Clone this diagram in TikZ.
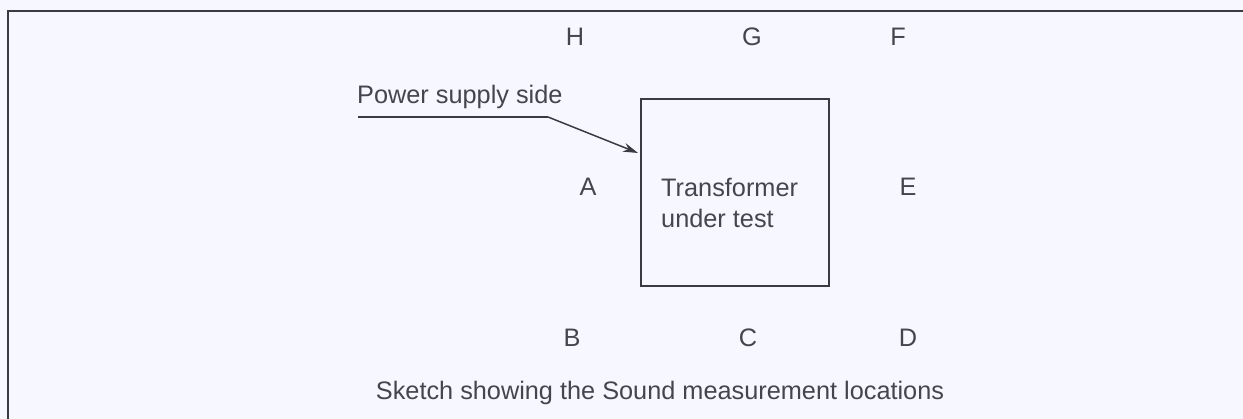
\documentclass[tikz,border=0pt]{standalone}
\usepackage{fontspec}
\setmainfont{Liberation Sans}
\usetikzlibrary{arrows.meta}
\definecolor{ink}{HTML}{3A3A44}
\definecolor{txt}{HTML}{45454D}
\begin{document}
\begin{tikzpicture}[x=1pt,y=1pt,
  lbl/.style={font=\fontsize{25.3}{30}\selectfont, text=txt, inner sep=0pt},
  line/.style={draw=ink, line width=1.7pt}]
\useasboundingbox (0,0) rectangle (1243,419);
\fill[white!97!blue] (0,0) rectangle (1243,419);
% frame (left and top edges)
\draw[line] (8,0) -- (8,408) -- (1243,408);
% transformer box
\node[line, minimum width=188pt, minimum height=187pt, inner sep=0pt] (box) at (735,226.5) {};
\node[lbl, align=left, anchor=west] (tx) at (661,216) {Transformer\\[1pt]under test};
% location labels
\node[lbl] (H) at (575,382) {H};
\node[lbl] (G) at (752,382) {G};
\node[lbl] (F) at (898,382) {F};
\node[lbl] (A) at (588,232) {A};
\node[lbl] (E) at (908,232) {E};
\node[lbl] (B) at (572,81) {B};
\node[lbl] (C) at (748,81) {C};
\node[lbl] (D) at (908,81) {D};
% power supply side label
\node[lbl, anchor=west] (ps) at (357,322) {Power supply side};
\coordinate (ul0) at (358,302);
\coordinate (ul1) at (548,302);
\coordinate (tip) at (638,266);
\draw[ink, line width=1.5pt] (ul0) -- (ul1);
\draw[ink, line width=1.5pt, -{Stealth[length=15pt,width=9pt]}] (ul1) -- (tip);
% caption
\node[lbl] (cap) at (660,26) {Sketch showing the Sound measurement locations};
\end{tikzpicture}
\end{document}
